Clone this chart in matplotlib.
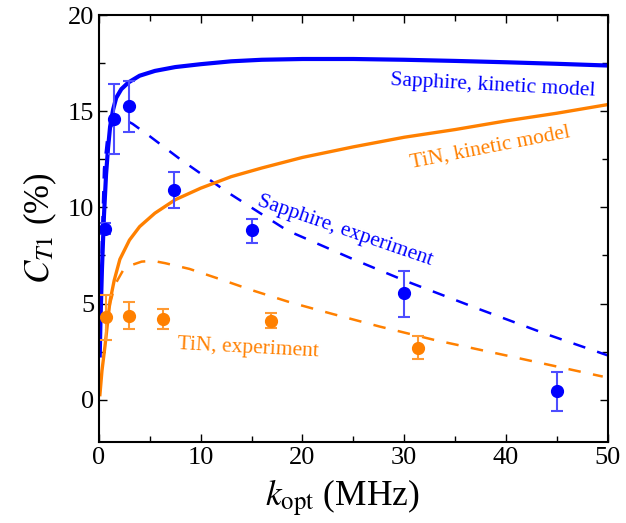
import matplotlib
matplotlib.use("Agg")
import matplotlib.pyplot as plt
from matplotlib.ticker import MultipleLocator

plt.rcParams["font.family"] = ["Liberation Serif", "DejaVu Serif"]
plt.rcParams["mathtext.fontset"] = "stix"

# sapphire, kinetic model (solid blue)
sap_model_x = [0.08, 0.15, 0.3, 0.5, 0.7, 0.9, 1.1, 1.4, 1.7, 2.2, 2.9, 4.0, 5.5, 7.5, 10, 13, 16, 20, 25, 30, 35, 40, 45, 50]
sap_model_y = [2.3, 4.0, 6.8, 9.6, 11.7, 13.1, 14.2, 15.1, 15.7, 16.15, 16.5, 16.85, 17.1, 17.3, 17.45, 17.6, 17.68, 17.72, 17.72, 17.68, 17.62, 17.55, 17.47, 17.38]

# sapphire, experiment fit (dashed blue)
sap_exp_x = [0.1, 0.3, 0.5, 0.8, 1.2, 1.7, 2.2, 3.3, 5, 8, 12.6, 18.5, 25, 30, 37.4, 44, 50]
sap_exp_y = [2.4, 8.5, 12.0, 13.5, 14.2, 14.55, 14.65, 14.35, 13.7, 12.5, 10.8, 8.8, 7.3, 6.2, 4.7, 3.4, 2.3]

# TiN, kinetic model (solid orange)
tin_model_x = [0.1, 0.3, 0.6, 1.08, 1.5, 2.06, 3.0, 4.0, 5.5, 7.5, 10, 13, 16, 20, 25, 30, 35, 40, 45, 50]
tin_model_y = [0.26, 1.5, 2.8, 5.1, 6.2, 7.3, 8.3, 9.0, 9.7, 10.4, 11.0, 11.6, 12.05, 12.6, 13.15, 13.65, 14.05, 14.5, 14.9, 15.35]

# TiN, experiment fit (dashed orange)
tin_exp_x = [0.7, 1.1, 1.6, 2.4, 3.2, 4.2, 5.3, 6.5, 8.9, 12, 15, 18.8, 23, 27.6, 33, 40, 49.5]
tin_exp_y = [3.6, 5.0, 6.0, 6.75, 7.0, 7.18, 7.22, 7.1, 6.8, 6.25, 5.7, 5.06, 4.45, 3.8, 3.1, 2.3, 1.2]

# measured points
sap_pts_x = [0.6, 1.5, 3.0, 7.4, 15.0, 30.0, 45.0]
sap_pts_y = [8.9, 14.6, 15.25, 10.9, 8.8, 5.55, 0.45]
sap_err_lo = [0.3, 1.8, 1.35, 0.95, 0.65, 1.25, 1.05]
sap_err_hi = [0.3, 1.8, 1.3, 0.95, 0.6, 1.15, 1.0]

tin_pts_x = [0.7, 3.0, 6.3, 16.9, 31.3]
tin_pts_y = [4.3, 4.35, 4.2, 4.1, 2.7]
tin_err_lo = [1.2, 0.7, 0.55, 0.35, 0.6]
tin_err_hi = [1.15, 0.75, 0.5, 0.4, 0.6]

blue = "#0000ff"
orange = "#ff8000"

fig = plt.figure(figsize=(6.26, 5.23), dpi=100)
ax = fig.add_axes([0.158, 0.155, 0.813, 0.816])

ax.plot(sap_exp_x, sap_exp_y, color=blue, lw=1.8, dashes=(5, 5))
ax.plot(tin_exp_x, tin_exp_y, color=orange, lw=1.8, dashes=(5, 5))
ax.plot(tin_model_x, tin_model_y, color=orange, lw=2.4)
ax.plot(sap_model_x, sap_model_y, color=blue, lw=3.0)

ax.errorbar(sap_pts_x, sap_pts_y, yerr=[sap_err_lo, sap_err_hi], fmt="o", color=blue,
            ms=8.5, ecolor="#4d4dff", elinewidth=1.5, capsize=4, capthick=1.5)
ax.errorbar(tin_pts_x, tin_pts_y, yerr=[tin_err_lo, tin_err_hi], fmt="o", color=orange,
            ms=8.5, ecolor="#ff9a33", elinewidth=1.5, capsize=4, capthick=1.5)

ax.text(38.7, 16.3, "Sapphire, kinetic model", color=blue, fontsize=15.5,
        rotation=-3, ha="center", va="center")
ax.text(38.4, 13.1, "TiN, kinetic model", color=orange, fontsize=15.5,
        rotation=11, ha="center", va="center")
ax.text(24.2, 8.8, "Sapphire, experiment", color=blue, fontsize=15.5,
        rotation=-19, ha="center", va="center")
ax.text(14.7, 2.65, "TiN, experiment", color=orange, fontsize=15.5,
        rotation=-3, ha="center", va="center")

ax.set_xlim(0, 50)
ax.set_ylim(-2.2, 20)
ax.xaxis.set_major_locator(MultipleLocator(10))
ax.xaxis.set_minor_locator(MultipleLocator(5))
ax.yaxis.set_major_locator(MultipleLocator(5))
ax.yaxis.set_minor_locator(MultipleLocator(2.5))
ax.tick_params(which="both", direction="in", top=True, right=True, labelsize=19, width=1)
ax.tick_params(which="major", length=6)
ax.tick_params(which="minor", length=4)
for s in ax.spines.values():
    s.set_linewidth(1.5)

ax.set_xlabel(r"$k_{\rm opt}$ (MHz)", fontsize=25.5, labelpad=0)
ax.xaxis.set_label_coords(0.478, -0.085)
ax.set_ylabel(r"$C_{T1}$ (%)", fontsize=25, labelpad=6)

fig.savefig("out.png", dpi=100)
